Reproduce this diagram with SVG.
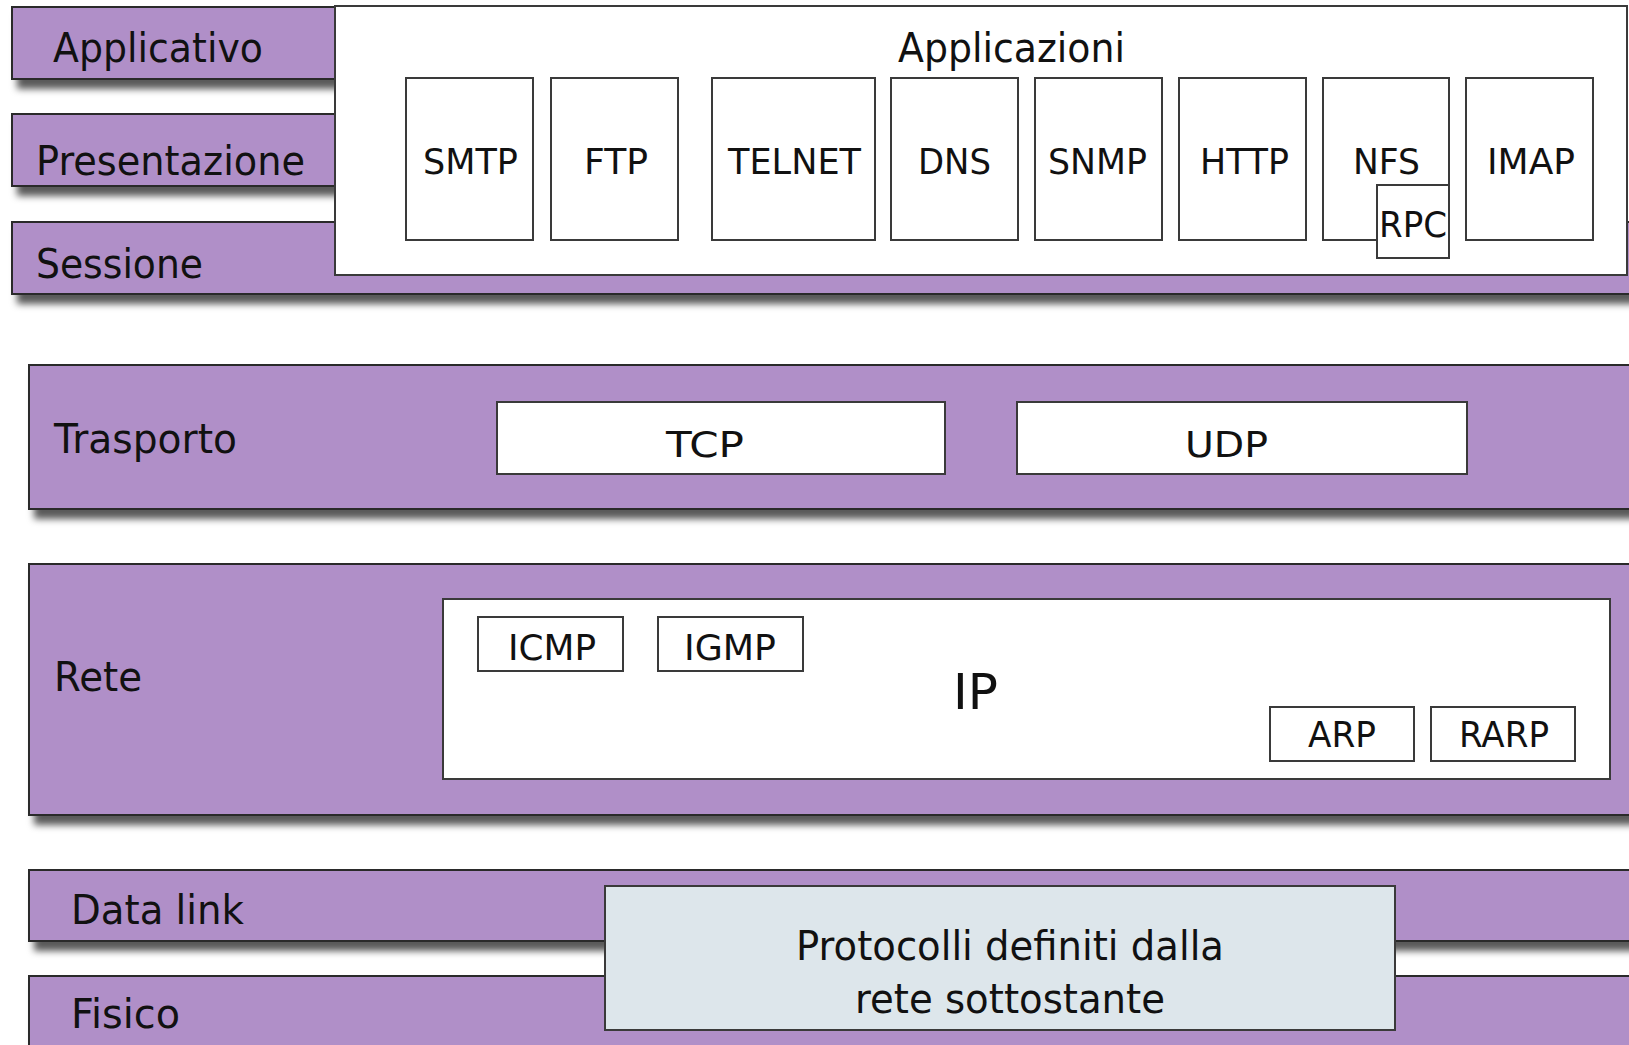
<svg xmlns="http://www.w3.org/2000/svg" width="1629" height="1045" viewBox="0 0 1629 1045">
<defs>
<filter id="sh" x="-5%" y="-20%" width="115%" height="170%">
<feDropShadow dx="6" dy="9" stdDeviation="3.5" flood-color="#000" flood-opacity="0.65"/>
</filter>
<style>
.band{fill:#b08fc8;stroke:#2a2a2a;stroke-width:2;filter:url(#sh)}
.box{fill:#fff;stroke:#3a3a3a;stroke-width:2}
.t{font-family:"DejaVu Sans","Liberation Sans",sans-serif;fill:#111}
.lbl{font-size:40px}
.bt{font-size:36px}
</style>
</defs>
<rect width="1629" height="1045" fill="#fff"/>
<g id="layers">
<g id="applicativo"><rect class="band" x="12" y="7" width="400" height="72"/><text class="t lbl" x="53" y="62" textLength="210" lengthAdjust="spacingAndGlyphs">Applicativo</text></g>
<g id="presentazione"><rect class="band" x="12" y="114" width="400" height="72"/><text class="t lbl" x="36" y="175" textLength="269" lengthAdjust="spacingAndGlyphs">Presentazione</text></g>
<g id="sessione"><rect class="band" x="12" y="222" width="1640" height="72"/><text class="t lbl" x="36" y="278" textLength="167" lengthAdjust="spacingAndGlyphs">Sessione</text></g>
<g id="trasporto"><rect class="band" x="29" y="365" width="1640" height="144"/><text class="t lbl" x="54" y="453" textLength="183" lengthAdjust="spacingAndGlyphs">Trasporto</text></g>
<g id="rete"><rect class="band" x="29" y="564" width="1640" height="251"/><text class="t lbl" x="54" y="691" textLength="88" lengthAdjust="spacingAndGlyphs">Rete</text></g>
<g id="datalink"><rect class="band" x="29" y="870" width="1640" height="71"/><text class="t lbl" x="71" y="924" textLength="173" lengthAdjust="spacingAndGlyphs">Data link</text></g>
<g id="fisico"><rect class="band" x="29" y="976" width="1640" height="90"/><text class="t lbl" x="71" y="1028" textLength="109" lengthAdjust="spacingAndGlyphs">Fisico</text></g>
</g>
<g id="applicazioni"><rect class="box" x="335" y="6" width="1292" height="269"/><text class="t lbl" x="898" y="62" textLength="227" lengthAdjust="spacingAndGlyphs">Applicazioni</text></g>
<g id="smtp"><rect class="box" x="406" y="78" width="127" height="162"/><text class="t bt" x="423" y="174" textLength="95" lengthAdjust="spacingAndGlyphs">SMTP</text></g>
<g id="ftp"><rect class="box" x="551" y="78" width="127" height="162"/><text class="t bt" x="584" y="174" textLength="64" lengthAdjust="spacingAndGlyphs">FTP</text></g>
<g id="telnet"><rect class="box" x="712" y="78" width="163" height="162"/><text class="t bt" x="728" y="174" textLength="133" lengthAdjust="spacingAndGlyphs">TELNET</text></g>
<g id="dns"><rect class="box" x="891" y="78" width="127" height="162"/><text class="t bt" x="918" y="174" textLength="73" lengthAdjust="spacingAndGlyphs">DNS</text></g>
<g id="snmp"><rect class="box" x="1035" y="78" width="127" height="162"/><text class="t bt" x="1048" y="174" textLength="99" lengthAdjust="spacingAndGlyphs">SNMP</text></g>
<g id="http"><rect class="box" x="1179" y="78" width="127" height="162"/><text class="t bt" x="1200" y="174" textLength="89" lengthAdjust="spacingAndGlyphs">HTTP</text></g>
<g id="nfs"><rect class="box" x="1323" y="78" width="126" height="162"/><text class="t bt" x="1353" y="174" textLength="67" lengthAdjust="spacingAndGlyphs">NFS</text></g>
<g id="rpc"><rect class="box" x="1377" y="185" width="72" height="73"/><text class="t bt" x="1379" y="237" textLength="68" lengthAdjust="spacingAndGlyphs">RPC</text></g>
<g id="imap"><rect class="box" x="1466" y="78" width="127" height="162"/><text class="t bt" x="1487" y="174" textLength="88" lengthAdjust="spacingAndGlyphs">IMAP</text></g>
<g id="tcp"><rect class="box" x="497" y="402" width="448" height="72"/><text class="t bt" x="666" y="457" textLength="78" lengthAdjust="spacingAndGlyphs">TCP</text></g>
<g id="udp"><rect class="box" x="1017" y="402" width="450" height="72"/><text class="t bt" x="1185" y="457" textLength="83" lengthAdjust="spacingAndGlyphs">UDP</text></g>
<g id="ip"><rect class="box" x="443" y="599" width="1167" height="180"/><text class="t" style="font-size:50px" x="953" y="709" textLength="45" lengthAdjust="spacingAndGlyphs">IP</text></g>
<g id="icmp"><rect class="box" x="478" y="617" width="145" height="54"/><text class="t bt" x="508" y="660" textLength="88" lengthAdjust="spacingAndGlyphs">ICMP</text></g>
<g id="igmp"><rect class="box" x="658" y="617" width="145" height="54"/><text class="t bt" x="684" y="660" textLength="92" lengthAdjust="spacingAndGlyphs">IGMP</text></g>
<g id="arp"><rect class="box" x="1270" y="707" width="144" height="54"/><text class="t bt" x="1308" y="747" textLength="68" lengthAdjust="spacingAndGlyphs">ARP</text></g>
<g id="rarp"><rect class="box" x="1431" y="707" width="144" height="54"/><text class="t bt" x="1459" y="747" textLength="90" lengthAdjust="spacingAndGlyphs">RARP</text></g>
<g id="protocolli"><rect class="box" style="fill:#dde6eb" x="605" y="886" width="790" height="144"/><text class="t lbl" x="796" y="960" textLength="428" lengthAdjust="spacingAndGlyphs">Protocolli definiti dalla</text><text class="t lbl" x="855" y="1013" textLength="310" lengthAdjust="spacingAndGlyphs">rete sottostante</text></g>
<g id="connectors"/>
</svg>
